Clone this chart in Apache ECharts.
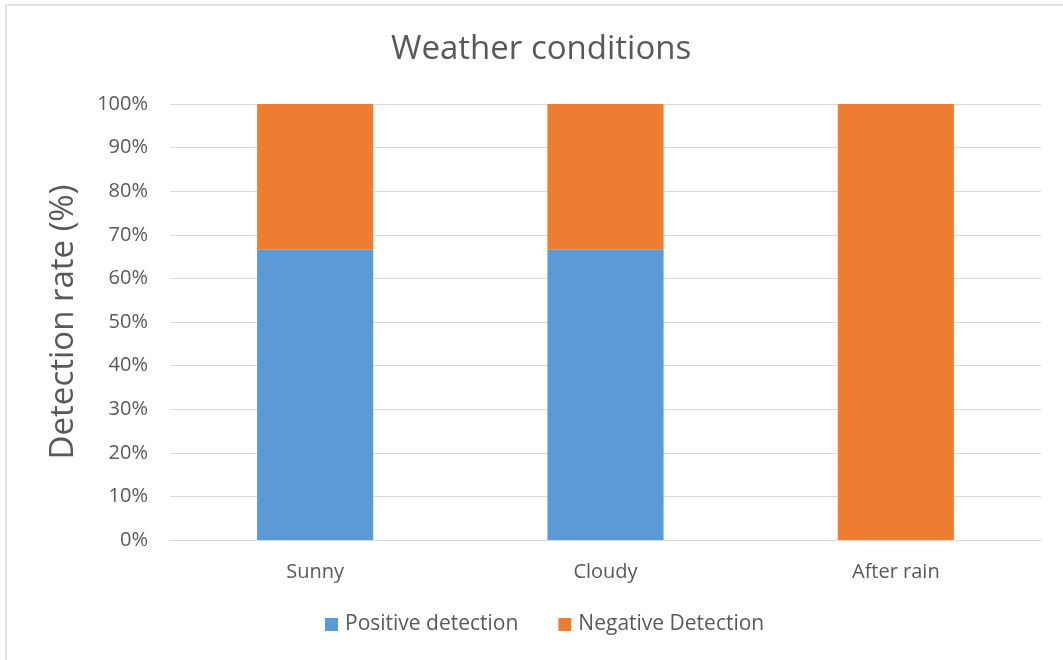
<!DOCTYPE html>
<html>
<head>
<meta charset="utf-8">
<script src="https://cdn.jsdelivr.net/npm/echarts@6/dist/echarts.min.js"></script>
<style>
  html, body { margin: 0; padding: 0; background: #fff; }
  #chart { width: 1063px; height: 660px; }
</style>
</head>
<body>
<div id="chart"></div>
<script>
// Detection rate by weather condition (stacked to 100%)
const categories = ['Sunny', 'Cloudy', 'After rain'];
const positiveDetection = [66.67, 66.67, 0];
const negativeDetection = [33.33, 33.33, 100];
const seriesNames = ['Positive detection', 'Negative Detection'];

const FONT = 'Open Sans';
const TEXT = '#595959';

const chart = echarts.init(document.getElementById('chart'));
chart.setOption({
  backgroundColor: '#fff',
  animation: false,
  title: {
    text: 'Weather conditions',
    left: 386,
    top: 28,
    textStyle: { fontFamily: FONT, fontSize: 33, fontWeight: 'normal', color: TEXT }
  },
  graphic: [{
    type: 'rect',
    shape: { x: 6, y: 5, width: 1070, height: 670 },
    style: { fill: 'none', stroke: '#d9d9d9', lineWidth: 1.5 },
    silent: true
  }],
  legend: {
    bottom: 20,
    left: 320,
    itemWidth: 13,
    itemHeight: 13,
    itemGap: 40,
    icon: 'rect',
    textStyle: { fontFamily: FONT, fontSize: 21, color: TEXT, padding: [0, 0, 0, 2] },
    data: seriesNames
  },
  grid: { left: 170, right: 22, top: 104, bottom: 120, containLabel: false },
  xAxis: {
    type: 'category',
    data: categories,
    axisLine: { lineStyle: { color: '#d9d9d9', width: 1 } },
    axisTick: { show: false },
    axisLabel: { fontFamily: FONT, fontSize: 20, color: TEXT, margin: 22 }
  },
  yAxis: {
    type: 'value',
    min: 0,
    max: 100,
    interval: 10,
    name: 'Detection rate (%)',
    nameLocation: 'middle',
    nameGap: 90,
    nameTextStyle: { fontFamily: FONT, fontSize: 33, color: TEXT },
    axisLine: { show: false },
    axisTick: { show: false },
    axisLabel: { fontFamily: FONT, fontSize: 20, color: TEXT, margin: 22, formatter: '{value}%' },
    splitLine: { lineStyle: { color: '#d9d9d9', width: 1 } }
  },
  series: [
    {
      name: seriesNames[0],
      type: 'bar',
      stack: 'total',
      barWidth: '40%',
      itemStyle: { color: '#5b9bd5' },
      data: positiveDetection
    },
    {
      name: seriesNames[1],
      type: 'bar',
      stack: 'total',
      barWidth: '40%',
      itemStyle: { color: '#ed7d31' },
      data: negativeDetection
    }
  ]
});
</script>
</body>
</html>
